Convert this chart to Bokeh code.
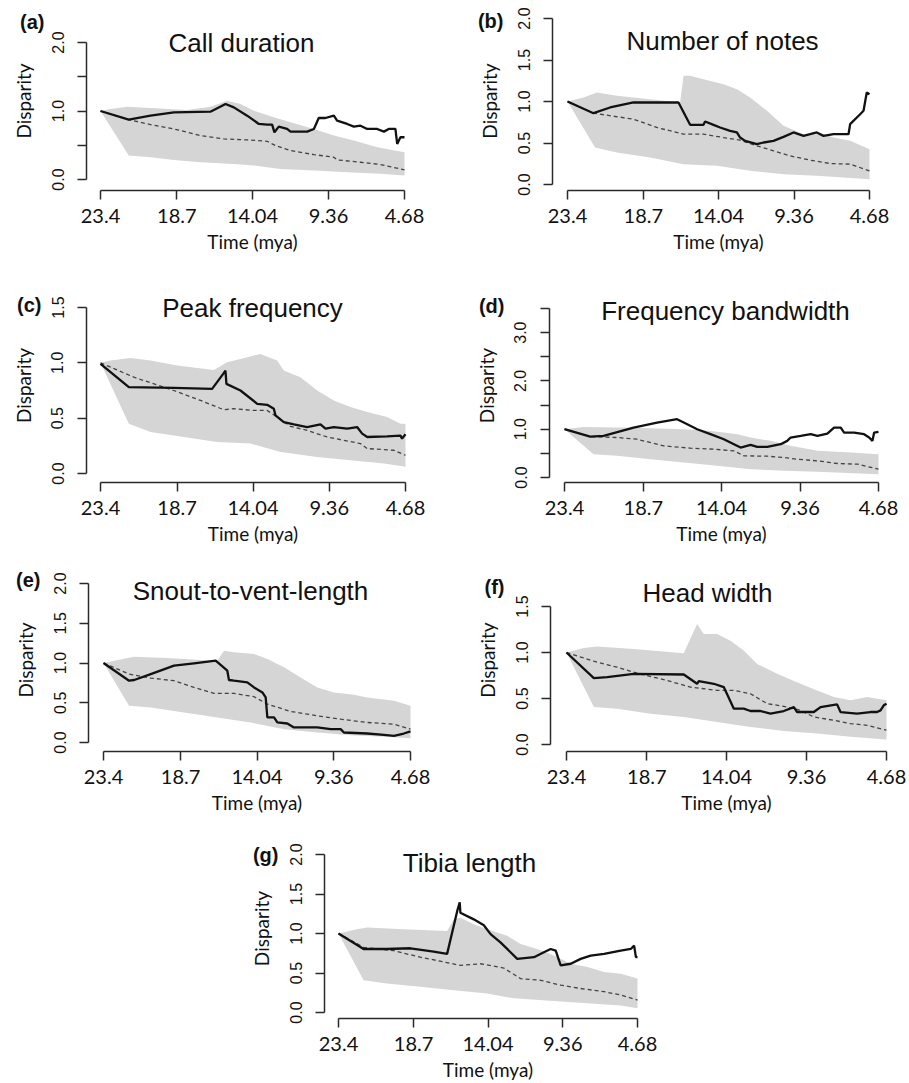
from bokeh.plotting import figure
from bokeh.layouts import column, row
from bokeh.models import Range1d, FixedTicker, PrintfTickFormatter, Label, Spacer, LinearAxis
from bokeh.embed import file_html
from bokeh.resources import INLINE

# ---------------- data (time in mya, disparity) ----------------
X_TICKS = [23.4, 18.7, 14.04, 9.36, 4.68]
X_TICK_LABELS = ["23.4", "18.7", "14.04", "9.36", "4.68"]

# (a) Call duration
A_OBS = [(23.4, 1.0), (21.66, 0.874), (20.32, 0.932), (18.88, 0.981), (16.63, 0.99), (15.70, 1.102),
         (15.19, 1.053), (14.37, 0.932), (13.65, 0.811), (13.14, 0.801), (12.83, 0.80), (12.69, 0.689),
         (12.42, 0.772), (11.91, 0.738), (11.70, 0.699), (10.67, 0.699), (10.26, 0.738), (9.96, 0.898),
         (9.55, 0.898), (9.03, 0.932), (8.83, 0.859), (8.21, 0.811), (7.80, 0.772), (7.39, 0.786),
         (6.98, 0.738), (6.36, 0.738), (5.95, 0.699), (5.65, 0.738), (5.24, 0.738), (5.13, 0.519),
         (4.93, 0.617), (4.68, 0.617)]
A_MED = [(23.4, 1.0), (21.66, 0.874), (20.32, 0.801), (18.88, 0.738), (17.24, 0.641), (15.81, 0.592),
         (14.37, 0.578), (13.14, 0.558), (12.62, 0.495), (11.70, 0.422), (10.26, 0.364), (9.03, 0.325),
         (8.83, 0.286), (7.39, 0.252), (6.16, 0.218), (4.68, 0.141)]
A_UP = [(23.4, 1.0), (22.78, 1.029), (21.76, 1.063), (20.32, 1.044), (18.06, 1.015), (16.63, 1.063),
        (15.60, 1.15), (14.78, 1.102), (13.96, 1.005), (12.73, 0.908), (11.70, 0.835), (10.26, 0.738),
        (9.03, 0.641), (7.80, 0.568), (6.36, 0.471), (4.68, 0.398)]
A_LO = [(23.4, 1.0), (21.66, 0.35), (20.32, 0.325), (18.88, 0.286), (17.24, 0.252), (15.19, 0.228),
        (13.96, 0.204), (12.32, 0.155), (10.26, 0.131), (8.21, 0.107), (6.16, 0.083), (4.68, 0.058)]

# (b) Number of notes
B_OBS = [(23.4, 1.0), (21.79, 0.859), (20.76, 0.928), (19.31, 0.988), (16.52, 0.988), (15.80, 0.719),
         (14.97, 0.719), (14.87, 0.759), (14.35, 0.719), (13.94, 0.687), (13.32, 0.647), (12.90, 0.627),
         (12.70, 0.566), (12.39, 0.526), (11.66, 0.486), (11.25, 0.506), (10.63, 0.526), (10.01, 0.574),
         (9.39, 0.627), (8.77, 0.586), (8.36, 0.606), (7.95, 0.627), (7.53, 0.586), (6.91, 0.606),
         (5.98, 0.606), (5.88, 0.727), (5.26, 0.847), (5.05, 0.888), (4.85, 1.108), (4.68, 1.088)]
B_MED = [(23.4, 1.0), (21.79, 0.859), (19.31, 0.787), (17.86, 0.687), (16.21, 0.606), (14.97, 0.606),
         (13.73, 0.566), (12.70, 0.534), (11.66, 0.466), (10.63, 0.406), (9.60, 0.345), (8.36, 0.293),
         (7.12, 0.253), (5.88, 0.245), (4.68, 0.165)]
B_UP = [(23.4, 1.0), (22.41, 1.048), (21.58, 1.108), (20.34, 1.068), (18.28, 1.028), (16.42, 0.988),
        (16.21, 1.309), (15.80, 1.309), (14.97, 1.269), (13.73, 1.209), (12.90, 1.149), (12.08, 1.048),
        (11.04, 0.888), (10.01, 0.707), (8.77, 0.606), (7.53, 0.606), (6.91, 0.566), (5.88, 0.526),
        (4.68, 0.426)]
B_LO = [(23.4, 1.0), (21.69, 0.446), (20.34, 0.386), (18.28, 0.325), (16.21, 0.245), (14.14, 0.225),
        (12.08, 0.165), (10.01, 0.124), (7.95, 0.104), (4.68, 0.064)]

# (c) Peak frequency
C_OBS = [(23.4, 0.99), (21.66, 0.78), (18.90, 0.774), (16.55, 0.765), (15.87, 0.90), (15.73, 0.93),
         (15.67, 0.81), (14.81, 0.75), (13.78, 0.63), (13.17, 0.621), (12.76, 0.585), (12.66, 0.525),
         (12.15, 0.465), (11.53, 0.444), (10.72, 0.42), (9.90, 0.444), (9.59, 0.405), (9.08, 0.42),
         (8.26, 0.405), (7.65, 0.42), (7.34, 0.36), (7.03, 0.33), (5.81, 0.336), (4.99, 0.342),
         (4.89, 0.315), (4.68, 0.354)]
C_MED = [(23.4, 1.0), (21.35, 0.87), (18.90, 0.75), (17.26, 0.66), (15.83, 0.576), (15.22, 0.585),
         (13.99, 0.57), (13.17, 0.57), (12.56, 0.51), (11.74, 0.426), (10.72, 0.39), (9.49, 0.33),
         (8.47, 0.30), (7.44, 0.27), (7.03, 0.225), (5.40, 0.21), (4.68, 0.165)]
C_UP = [(23.4, 1.0), (22.79, 1.02), (21.56, 1.044), (20.33, 1.02), (18.69, 0.975), (16.44, 0.936),
        (15.63, 1.005), (14.81, 1.035), (13.58, 1.08), (13.17, 1.056), (12.56, 1.02), (12.15, 0.93),
        (11.13, 0.87), (10.10, 0.75), (9.08, 0.66), (8.06, 0.60), (7.03, 0.555), (5.81, 0.51),
        (4.99, 0.45), (4.68, 0.45)]
C_LO = [(23.4, 1.0), (21.66, 0.45), (20.33, 0.375), (18.29, 0.33), (16.24, 0.285), (14.19, 0.27),
        (12.35, 0.195), (10.10, 0.15), (8.06, 0.12), (6.01, 0.09), (4.68, 0.06)]

# (d) Frequency bandwidth
D_OBS = [(23.4, 1.0), (21.87, 0.848), (21.07, 0.862), (19.28, 1.034), (17.88, 1.138), (16.69, 1.207),
         (16.29, 1.138), (15.49, 1.0), (14.70, 0.897), (13.90, 0.793), (13.30, 0.69), (12.90, 0.621),
         (12.31, 0.676), (11.91, 0.634), (11.31, 0.634), (10.51, 0.69), (10.12, 0.759), (9.92, 0.828),
         (9.32, 0.862), (8.72, 0.897), (8.32, 0.862), (7.73, 0.91), (7.33, 1.034), (6.93, 1.034),
         (6.73, 0.931), (6.13, 0.931), (5.54, 0.897), (5.24, 0.828), (5.04, 0.759), (4.94, 0.931),
         (4.68, 0.945)]
D_MED = [(23.4, 1.0), (21.87, 0.848), (20.27, 0.828), (19.08, 0.793), (17.49, 0.655), (15.89, 0.607),
         (14.50, 0.586), (13.30, 0.552), (12.70, 0.448), (11.31, 0.441), (10.32, 0.414), (9.52, 0.379),
         (8.32, 0.345), (7.13, 0.29), (5.93, 0.276), (4.68, 0.172)]
D_UP = [(23.4, 1.0), (22.26, 1.048), (20.27, 1.034), (18.28, 1.021), (16.29, 1.0), (15.09, 0.979),
        (13.90, 0.931), (13.10, 0.897), (12.31, 0.828), (11.11, 0.759), (9.92, 0.655), (8.32, 0.552),
        (6.33, 0.517), (4.68, 0.483)]
D_LO = [(23.4, 1.0), (21.67, 0.483), (20.27, 0.448), (18.28, 0.379), (16.29, 0.31), (14.30, 0.241),
        (12.31, 0.172), (10.32, 0.138), (8.32, 0.117), (4.68, 0.069)]

# (e) Snout-to-vent-length
E_OBS = [(23.4, 1.0), (21.84, 0.777), (21.53, 0.786), (20.52, 0.861), (19.10, 0.966), (17.88, 0.996),
         (16.56, 1.029), (15.85, 0.903), (15.75, 0.786), (15.44, 0.777), (14.63, 0.756), (14.22, 0.693),
         (13.71, 0.63), (13.51, 0.567), (13.41, 0.315), (13.00, 0.315), (12.80, 0.252), (12.19, 0.239),
         (11.79, 0.189), (10.36, 0.189), (9.55, 0.168), (8.94, 0.168), (8.74, 0.126), (7.32, 0.113),
         (6.30, 0.097), (5.69, 0.084), (5.09, 0.113), (4.68, 0.139)]
E_MED = [(23.4, 1.0), (21.84, 0.861), (20.52, 0.811), (19.10, 0.777), (17.88, 0.693), (16.66, 0.618),
         (15.44, 0.618), (14.22, 0.576), (13.41, 0.483), (11.99, 0.391), (10.36, 0.336), (8.94, 0.294),
         (7.32, 0.252), (5.69, 0.231), (4.68, 0.168)]
E_UP = [(23.4, 1.0), (22.75, 1.029), (21.53, 1.08), (19.50, 1.063), (17.47, 1.038), (16.46, 1.029),
        (16.05, 1.155), (15.44, 1.134), (14.22, 1.113), (13.41, 1.05), (12.39, 0.945), (11.38, 0.819),
        (10.36, 0.693), (9.35, 0.63), (8.13, 0.601), (7.32, 0.567), (5.69, 0.525), (4.68, 0.462)]
E_LO = [(23.4, 1.0), (21.84, 0.462), (20.52, 0.441), (18.49, 0.378), (16.46, 0.315), (14.43, 0.252),
        (12.39, 0.168), (10.36, 0.126), (8.33, 0.092), (6.30, 0.071), (4.68, 0.055)]

# (f) Head width
F_OBS = [(23.4, 1.0), (21.80, 0.721), (21.02, 0.732), (19.46, 0.768), (16.54, 0.761), (15.76, 0.66),
         (15.66, 0.689), (14.78, 0.66), (14.20, 0.624), (13.61, 0.389), (13.03, 0.389), (12.64, 0.364),
         (12.05, 0.364), (11.47, 0.335), (10.69, 0.364), (10.10, 0.407), (9.91, 0.353), (8.93, 0.353),
         (8.54, 0.407), (7.57, 0.436), (7.37, 0.353), (6.40, 0.335), (5.62, 0.353), (5.23, 0.353),
         (5.03, 0.371), (4.84, 0.426), (4.68, 0.444)]
F_MED = [(23.4, 1.0), (21.80, 0.905), (20.44, 0.84), (19.27, 0.775), (17.51, 0.696), (16.15, 0.624),
         (14.59, 0.588), (13.61, 0.588), (12.64, 0.552), (11.66, 0.444), (10.69, 0.415), (9.71, 0.371),
         (8.93, 0.299), (7.76, 0.263), (6.79, 0.227), (5.81, 0.209), (4.68, 0.155)]
F_UP = [(23.4, 1.0), (22.39, 1.049), (21.61, 1.064), (19.46, 1.039), (16.54, 0.992), (15.76, 1.309),
        (15.37, 1.201), (14.59, 1.201), (13.81, 1.129), (13.03, 1.021), (12.25, 0.876), (11.08, 0.768),
        (9.71, 0.66), (8.74, 0.588), (7.76, 0.516), (6.79, 0.48), (5.81, 0.516), (4.68, 0.48)]
F_LO = [(23.4, 1.0), (21.80, 0.407), (20.44, 0.389), (18.49, 0.335), (16.54, 0.299), (14.59, 0.245),
        (12.64, 0.191), (10.69, 0.148), (8.74, 0.119), (6.79, 0.083), (4.68, 0.054)]

# (g) Tibia length
G_OBS = [(23.4, 1.0), (21.83, 0.804), (20.37, 0.804), (18.90, 0.813), (17.44, 0.771), (16.60, 0.742),
         (15.97, 1.283), (15.81, 1.396), (15.77, 1.263), (14.93, 1.179), (14.30, 1.104), (13.88, 0.992),
         (13.26, 0.888), (12.63, 0.763), (12.21, 0.679), (11.16, 0.70), (10.54, 0.763), (10.12, 0.804),
         (9.80, 0.783), (9.49, 0.596), (8.86, 0.617), (8.24, 0.679), (7.61, 0.721), (6.77, 0.742),
         (5.73, 0.783), (5.10, 0.804), (4.89, 0.846), (4.78, 0.70), (4.68, 0.70)]
G_MED = [(23.4, 1.0), (21.83, 0.825), (19.95, 0.783), (18.28, 0.70), (17.23, 0.658), (15.77, 0.596),
         (14.51, 0.617), (13.05, 0.563), (12.00, 0.429), (10.75, 0.408), (9.49, 0.346), (8.24, 0.304),
         (6.77, 0.263), (5.73, 0.221), (4.68, 0.158)]
G_UP = [(23.4, 1.0), (22.25, 1.054), (21.62, 1.075), (19.32, 1.054), (16.60, 1.033), (16.18, 1.179),
        (15.77, 1.20), (14.93, 1.117), (14.09, 1.054), (12.84, 0.971), (12.00, 0.867), (10.96, 0.804),
        (9.91, 0.721), (8.86, 0.617), (7.82, 0.575), (6.77, 0.513), (5.73, 0.492), (4.68, 0.429)]
G_LO = [(23.4, 1.0), (21.83, 0.408), (20.37, 0.367), (18.28, 0.325), (16.18, 0.283), (14.09, 0.242),
        (12.42, 0.179), (9.91, 0.146), (7.82, 0.117), (5.73, 0.088), (4.68, 0.054)]

TITLES = ["Call duration", "Number of notes", "Peak frequency", "Frequency bandwidth",
          "Snout-to-vent-length", "Head width", "Tibia length"]
PANEL_TAGS = ["(a)", "(b)", "(c)", "(d)", "(e)", "(f)", "(g)"]
Y_MAJOR = [[0, 1, 2], [0, 0.5, 1, 1.5, 2], [0, 0.5, 1, 1.5], [0, 1, 2, 3],
           [0, 0.5, 1, 1.5, 2], [0, 0.5, 1, 1.5], [0, 0.5, 1, 1.5, 2]]
Y_MINOR = [[0.5, 1.5], [], [], [0.5, 1.5, 2.5, 3.5], [], [], []]
Y_TOP = [2.0, 2.0, 1.5, 3.5, 2.0, 1.5, 2.0]

SERIES = [(A_OBS, A_MED, A_UP, A_LO), (B_OBS, B_MED, B_UP, B_LO), (C_OBS, C_MED, C_UP, C_LO),
          (D_OBS, D_MED, D_UP, D_LO), (E_OBS, E_MED, E_UP, E_LO), (F_OBS, F_MED, F_UP, F_LO),
          (G_OBS, G_MED, G_UP, G_LO)]

# ---------------- layout (page pixels) ----------------
# frame left/right ; pixel of x=23.4 and x=4.68 ; pixel of y=0 and of the top y tick
GEOM = [
    (86, 418, 100, 404, 179, 42),
    (552, 884, 567, 869, 184, 18),
    (86, 419, 100, 405, 473, 307),
    (549, 893, 564, 878, 477, 308),
    (88, 425, 103, 410, 742, 583),
    (550, 902, 566, 886, 744, 606),
    (324, 651, 338, 637, 1012, 854),
]
ROW_OF = [0, 0, 1, 1, 2, 2, 3]
ROW_FRAME = [(11, 190), (288, 482), (568, 751), (838, 1018)]   # frame top, bottom
ROW_CELL = [(0, 262), (262, 548), (548, 820), (820, 1082)]
COL_CELL = [(0, 450), (450, 909), (0, 450), (450, 909), (0, 450), (450, 909), (220, 700)]
TAG_Y = [21, 20, 304, 305, 579, 586, 854]
TAG_STANDOFF = [-36, -29, -33, -33, -30, -32, -32]
TITLE_POS = [(241, 42), (722, 40), (252, 307), (725, 310), (250, 590), (707, 592), (469, 862)]

SANS = "Liberation Sans"
HUMAN = "Lato"
AX_COL = "#2a2a2a"


def make_panel(i):
    obs, med, up, lo = SERIES[i]
    L, R, x234, x468, y0, ytp = GEOM[i]
    T, B = ROW_FRAME[ROW_OF[i]]
    cy0, cy1 = ROW_CELL[ROW_OF[i]]
    cx0, cx1 = COL_CELL[i]
    ytop = Y_TOP[i]
    ppx = (x468 - x234) / (23.4 - 4.68)
    xs = 23.4 + (x234 - L) / ppx
    xe = 4.68 - (R - x468) / ppx
    ppy = (y0 - ytp) / ytop
    ys = -(B - y0) / ppy
    ye = ytop + (ytp - T) / ppy

    def to_data(px, py):
        return (xs + (px - L) / (R - L) * (xe - xs), ye - (py - T) / (B - T) * (ye - ys))

    p = figure(frame_width=R - L, frame_height=B - T,
               min_border_left=L - cx0, min_border_right=cx1 - R,
               min_border_top=T - cy0, min_border_bottom=cy1 - B,
               x_range=Range1d(xs, xe), y_range=Range1d(ys, ye),
               toolbar_location=None, output_backend="svg", title=None)
    p.outline_line_color = None
    p.grid.visible = False
    p.background_fill_color = "white"
    p.border_fill_color = "white"

    xa = p.xaxis[0]
    xa.ticker = FixedTicker(ticks=X_TICKS)
    xa.major_label_overrides = {t: s for t, s in zip(X_TICKS, X_TICK_LABELS)}
    xa.bounds = (min(X_TICKS), max(X_TICKS))
    xa.axis_label = "Time (mya)"
    xa.major_label_text_font = HUMAN
    xa.major_label_text_font_size = "20px"
    xa.major_label_standoff = 9
    xa.axis_label_standoff = 4
    xa.axis_label_text_font_size = "19px"

    ya = p.yaxis[0]
    ya.ticker = FixedTicker(ticks=Y_MAJOR[i], minor_ticks=Y_MINOR[i])
    ya.formatter = PrintfTickFormatter(format="%.1f")
    ya.bounds = (0, ytop)
    ya.axis_label = "Disparity"
    ya.major_label_orientation = "vertical"
    ya.major_label_text_font = SANS
    ya.major_label_text_font_size = "16px"
    ya.major_label_standoff = 14
    ya.axis_label_standoff = 14
    ya.axis_label_text_font_size = "19px"

    for ax in (xa, ya):
        ax.axis_line_color = AX_COL
        ax.axis_line_width = 1.5
        ax.major_tick_line_color = AX_COL
        ax.major_tick_line_width = 1.5
        ax.minor_tick_line_color = AX_COL
        ax.minor_tick_line_width = 1.5
        ax.major_tick_in = 0
        ax.major_tick_out = 9
        ax.minor_tick_in = 0
        ax.minor_tick_out = 9
        ax.major_label_text_color = "#111111"
        ax.axis_label_text_font = HUMAN
        ax.axis_label_text_font_style = "normal"
        ax.axis_label_text_color = "#111111"

    # panel letter, carried by a bare axis outside the "Disparity" axis
    _, tag_y = to_data(L, TAG_Y[i])
    tag_axis = LinearAxis(ticker=FixedTicker(ticks=[tag_y]),
                          major_label_overrides={tag_y: PANEL_TAGS[i]},
                          axis_line_color=None, major_tick_line_color=None,
                          minor_tick_line_color=None, major_tick_in=0, major_tick_out=0,
                          minor_tick_in=0, minor_tick_out=0,
                          major_label_orientation="horizontal",
                          major_label_standoff=TAG_STANDOFF[i],
                          major_label_text_font=SANS, major_label_text_font_style="bold",
                          major_label_text_font_size="20px", major_label_text_color="#111111")
    p.add_layout(tag_axis, "left")

    band_x = [t for t, v in up] + [t for t, v in reversed(lo)]
    band_y = [v for t, v in up] + [v for t, v in reversed(lo)]
    p.patch(band_x, band_y, fill_color="#d5d5d5", line_color=None)
    p.line([t for t, v in med], [v for t, v in med], line_color="#444444",
           line_width=1.3, line_dash="4 3")
    p.line([t for t, v in obs], [v for t, v in obs], line_color="#111111", line_width=2.3)

    hx, hy = to_data(*TITLE_POS[i])
    p.add_layout(Label(x=hx, y=hy, text=TITLES[i], text_font=SANS, text_font_size="26px",
                       text_align="center", text_baseline="middle", text_color="#111111"))
    return p


panels = [make_panel(i) for i in range(7)]
layout = column(
    row(panels[0], panels[1]),
    row(panels[2], panels[3]),
    row(panels[4], panels[5]),
    row(Spacer(width=220, height=10), panels[6]),
)

open("out.html", "w").write(file_html(layout, INLINE))
